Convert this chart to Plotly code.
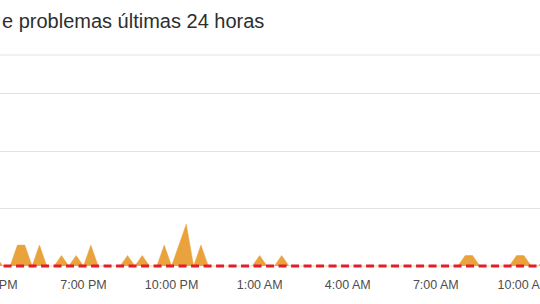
import plotly.graph_objects as go
import pandas as pd

# 15-minute samples starting 4:00 PM (reports count)
start_time = "2023-05-01 16:00"
report_values = [
    1, 0, 0, 2, 2, 0, 2, 0, 0, 1, 0, 1,      # 4:00 PM - 6:45 PM
    0, 2, 0, 0, 0, 0, 1, 0, 1, 0, 0, 2,      # 7:00 PM - 9:45 PM
    0, 2, 4, 0, 2, 0, 0, 0, 0, 0, 0, 0,      # 10:00 PM - 12:45 AM
    1, 0, 0, 1, 0, 0, 0, 0, 0, 0, 0, 0,      # 1:00 AM - 3:45 AM
    0, 0, 0, 0, 0, 0, 0, 0, 0, 0, 0, 0,      # 4:00 AM - 6:45 AM
    0, 0, 0, 0, 1, 1, 0, 0, 0, 0, 0, 1,      # 7:00 AM - 9:45 AM
    1, 0, 0, 1,                              # 10:00 AM - 10:45 AM
]
times = pd.date_range(start_time, periods=len(report_values), freq="15min")

baseline_value = [0, 0]
baseline_x = ["2023-05-01 15:00", "2023-05-02 12:00"]

tick_vals = ["2023-05-01 19:00", "2023-05-01 22:00",
             "2023-05-02 01:00", "2023-05-02 04:00", "2023-05-02 07:00",
             "2023-05-02 10:00"]
tick_text = ["7:00 PM", "10:00 PM", "1:00 AM", "4:00 AM",
             "7:00 AM", "10:00 AM"]
first_tick_text = "4:00 PM"   # partly outside the visible range
grid_vals = [5.5, 11, 16.5]

title_text = "e problemas últimas 24 horas"
FONT = "Liberation Sans, Arial, Helvetica, sans-serif"

fig = go.Figure()
fig.add_trace(go.Scatter(
    x=times, y=report_values, mode="lines", fill="tozeroy",
    line=dict(color="#eaa23c", width=0.5), fillcolor="#eaa23c",
    hoverinfo="skip", showlegend=False,
))
fig.add_trace(go.Scatter(
    x=baseline_x, y=baseline_value, mode="lines",
    line=dict(color="#e31d2b", width=3, dash="8px,4.5px"),
    hoverinfo="skip", showlegend=False,
))

fig.add_shape(type="line", xref="paper", yref="paper", x0=0, x1=1, y0=1, y1=1,
              line=dict(color="#e2e2e2", width=1))

fig.add_annotation(text=title_text, xref="paper", yref="paper", x=0, y=1.157,
                   xanchor="left", yanchor="middle", showarrow=False,
                   font=dict(family=FONT, size=20, color="#2e2e2e"))

# label of the 4:00 PM tick, whose position lies just left of the plot
fig.add_annotation(text=first_tick_text, xref="paper", yref="paper",
                   x=-6 / 540, y=-0.075, xanchor="center", yanchor="middle",
                   showarrow=False,
                   font=dict(family=FONT, size=12.5, color="#4d4d4d"))

fig.update_layout(
    width=540, height=304,
    margin=dict(l=0, r=0, t=55, b=35, autoexpand=False),
    paper_bgcolor="white", plot_bgcolor="white",
    xaxis=dict(
        range=["2023-05-01 16:09:22", "2023-05-02 10:32:54"],
        tickvals=tick_vals, ticktext=tick_text,
        showgrid=False, zeroline=False, showline=False, ticks="",
        tickfont=dict(family=FONT, size=12.5, color="#4d4d4d"),
        ticklabelstandoff=6, ticklabeloverflow="allow", automargin=False,
    ),
    yaxis=dict(
        range=[-0.287, 20.19], tickvals=grid_vals, showticklabels=False,
        showgrid=True, gridcolor="#e2e2e2", gridwidth=1,
        zeroline=False, showline=False, automargin=False,
    ),
)

fig.write_html("out.html")
